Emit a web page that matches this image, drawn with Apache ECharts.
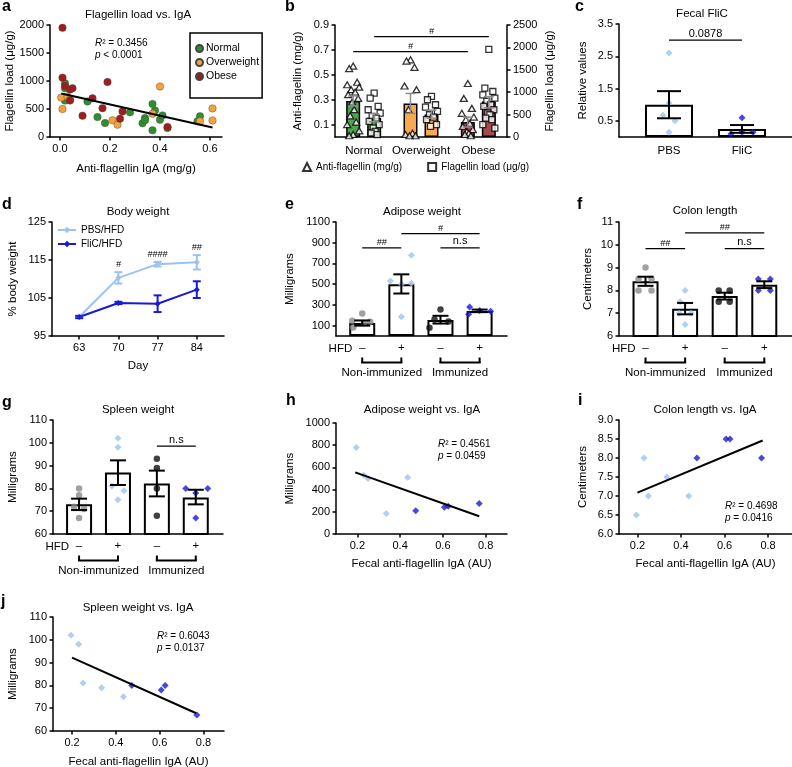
<!DOCTYPE html>
<html><head><meta charset="utf-8">
<script src="https://cdn.jsdelivr.net/npm/echarts@6/dist/echarts.min.js"></script>
<style>html,body{margin:0;padding:0;background:#fff}#c{width:792px;height:767px}</style>
</head><body><div id="c"></div>
<script>
// ---------------- DATA ----------------
// a: Flagellin load vs IgA  [IgA mg/g, load ug/g]
const aNormal = [[0.02,960],[0.02,870],[0.02,650],[0.11,635],[0.15,355],[0.18,250],[0.28,440],[0.33,245],[0.34,340],[0.34,300],[0.37,590],[0.38,475],[0.40,310],[0.41,385],[0.37,120],[0.43,160],[0.56,370],[0.55,280]];
const aOverweight = [[0.005,705],[0.01,500],[0.03,720],[0.04,670],[0.21,297],[0.23,220],[0.40,900],[0.37,415],[0.56,280],[0.61,510],[0.61,296]];
const aObese = [[0.01,1950],[0.01,1060],[0.02,910],[0.05,870],[0.04,850],[0.19,980],[0.13,690],[0.09,380],[0.17,515],[0.25,455],[0.24,325],[0.43,180],[0.04,650]];
const aFit = [[0.005,775],[0.61,170]];
const aXTicks = [0,0.2,0.4,0.6];

// b
const bCategories = ['Normal','Overweight','Obese'];
const bAntiMean = [0.29,0.27,0.12];
const bAntiErr = [[0.25,0.33],[0.19,0.35],[0.08,0.16]];
const bLoadMean = [430,500,790];
const bLoadErr = [[340,520],[420,600],[650,900]];
const bAntiNormal = [0.57,0.55,0.44,0.42,0.40,0.38,0.36,0.34,0.31,0.28,0.22,0.17,0.12,0.10,0.05,0.02,0.01];
const bAntiOverweight = [0.62,0.61,0.56,0.41,0.38,0.22,0.03,0.02,0.01,0.01];
const bAntiObese = [0.43,0.31,0.23,0.19,0.16,0.14,0.11,0.085,0.06,0.045,0.03,0.02,0.01];
const bLoadNormal = [979,868,682,608,534,460,423,349,274,200,126,89,52];
const bLoadOverweight = [905,831,720,668,571,497,445,386,274,237];
const bLoadObese = [1958,1090,1016,942,868,794,720,682,608,534,497,423,386,274,200];
const bLeftTicks = [0.1,0.3,0.5,0.7,0.9];
const bSig = [{x1:0,x2:2,y:0.686,label:'#',bar:'anti'},{x1:0,x2:2,y:0.807,label:'#',bar:'load'}];

// c
const cCategories = ['PBS','FliC'];
const cMean = [1.0,0.25];
const cErr = [[0.58,1.42],[0.13,0.37]];
const cPoints = [[2.6,1.05,0.67,0.5,0.15],[0.6,0.1,0.15,0.15]];
const cJit = [[0,0,-6,6,0],[0,-11,0,11]];
const cYTicks = [0.5,1.5,2.5,3.5];
const cSig = [{x1:0,x2:1,y:3.0,label:'0.0878'}];

// d
const dDays = [63,70,77,84];
const dPBS = [100,110.3,113.9,114.4];
const dPBSErr = [0.3,1.5,0.6,1.9];
const dFliC = [100,103.7,103.5,107.2];
const dFliCErr = [0.3,0.3,2.2,2.2];
const dSigLabels = ['','#','####','##'];
const dSigY = [null,113.8,116.4,118.2];
const dYTicks = [95,105,115,125];

// e, f, g (groups: Non-immunized HFD-, HFD+, Immunized HFD-, HFD+)
const hfdLabels = ['–','+','–','+'];
const immGroups = [{from:0,to:1,label:'Non-immunized'},{from:2,to:3,label:'Immunized'}];
const eMean = [125,500,155,242];
const eErr = [[100,150],[410,595],[120,195],[230,255]];
const ePoints = [[218,148,138,122,81],[780,530,500,510,185],[255,160,140,80],[280,245,240,210]];
const eJit = [[0,-10,8,2,-9],[10,-11,0,10,0],[0,-6,8,-11],[-10,0,11,-11]];
const eSig = [{x1:0,x2:1,y:850,label:'##'},{x1:1,x2:3,y:988,label:'#'},{x1:2,x2:3,y:850,label:'n.s'}];
const eYTicks = [100,300,500,700,900,1100];

const fMean = [8.4,7.2,7.75,8.25];
const fErr = [[8.2,8.6],[6.95,7.45],[7.6,7.9],[8.1,8.4]];
const fPoints = [[9.0,8.5,8.5,8.0,8.0],[8.0,7.5,7.0,7.0,6.5],[8.0,8.0,7.5,7.5],[8.5,8.5,8.0,8.0]];
const fJit = [[0,-7,6,-7,6],[0,-5,-6,6,0],[-6,5,-6,5],[-6,6,-6,6]];
const fSig = [{x1:0,x2:1,y:9.83,label:'##'},{x1:1,x2:3,y:10.52,label:'##'},{x1:2,x2:3,y:9.83,label:'n.s'}];

const gMean = [73,87,82.2,76];
const gErr = [[70.5,75.5],[81.5,92.3],[76.5,87.8],[73,79.4]];
const gPoints = [[80,77,72,71,67],[102,98,81,79,75],[93,89,80,68],[80,80,78,67]];
const gJit = [[0,0,-5,5,0],[0,0,-6,6,0],[0,0,0,0],[-10,12,0,0]];
const gSig = [{x1:2,x2:3,y:98.5,label:'n.s'}];

// h, i, j: fecal anti-flagellin IgA (AU)
const igaPBS = [0.195,0.23,0.25,0.335,0.435];
const igaFliC = [0.473,0.607,0.625,0.77];
const hPBS = [780,530,500,185,510];
const hFliC = [210,240,250,275];
const hFit = [[0.19,555],[0.77,160]];
const iPBS = [6.5,8.0,7.0,7.5,7.0];
const iFliC = [8.0,8.5,8.5,8.0];
const iFit = [[0.2,7.09],[0.775,8.46]];
const jPBS = [102,98,81,79,75];
const jFliC = [80,78,80,67];
const jFit = [[0.2,92.2],[0.767,67.8]];
const igaTicks = [0.2,0.4,0.6,0.8];

// ---------------- STYLE ----------------
const FF = '"Liberation Sans", Arial, Helvetica, sans-serif';
const LIGHT = '#9cc3ee', DARK = '#1a1ad6', GRAY = '#8a8a8a', BLACK = '#111111';
const GREEN = '#2f8f2f', ORANGE = '#f4a23a', RED = '#a11d1d';
const bColors = ['#52a152','#f8a850','#a84a52'];
const grpColors = [GRAY, LIGHT, BLACK, DARK];
const grpSymbols = ['circle','diamond','circle','diamond'];
const grpSizes = [6.5,7,6.5,7];

const grids = [
 {left:50, top:25, width:172, height:112},
 {left:335, top:25, width:172, height:112},
 {left:619, top:24, width:173, height:113},
 {left:52, top:222, width:172, height:114},
 {left:336, top:222, width:171, height:114},
 {left:619, top:222, width:173, height:114},
 {left:53, top:420, width:170, height:114},
 {left:336, top:423, width:171, height:111},
 {left:619, top:420, width:173, height:114},
 {left:53, top:617, width:171, height:114}
];

function merge(a,b){ const o=Object.assign({},a); for(const k in b){ if(b[k]&&typeof b[k]==='object'&&!Array.isArray(b[k])&&typeof a[k]==='object'&&a[k]) o[k]=merge(a[k],b[k]); else o[k]=b[k]; } return o; }
const axisBase = {
  axisLine:{show:true,onZero:false,lineStyle:{color:'#000',width:1.5}},
  axisTick:{show:true,length:3.5,lineStyle:{color:'#000',width:1.5}},
  axisLabel:{color:'#000',fontSize:11,fontFamily:FF,margin:6,formatter:v=>String(v)},
  splitLine:{show:false},
  nameLocation:'middle',
  nameTextStyle:{color:'#000',fontSize:11.5,fontFamily:FF}
};
const vAx = o => merge(merge(axisBase,{type:'value'}), o);
const f1 = v => v.toFixed(1);
const custom = (vals, fmt) => ({axisTick:{customValues:vals}, axisLabel:Object.assign({customValues:vals}, fmt?{formatter:fmt}:{})});

const xAxis = [
  vAx(merge({gridIndex:0,min:-0.04,max:0.648,name:'Anti-flagellin IgA (mg/g)',nameGap:26}, custom(aXTicks,f1))),
  merge(axisBase,{type:'category',gridIndex:1,data:bCategories,axisTick:{show:false},axisLabel:{fontSize:11.5,margin:8,interval:0}}),
  vAx({gridIndex:2,min:-0.685,max:1.685,axisTick:{show:false},axisLabel:{customValues:[0,1],formatter:v=>cCategories[Math.round(v)],fontSize:11.5,margin:8}}),
  vAx(merge({gridIndex:3,min:58.14,max:88.86,name:'Day',nameGap:24}, custom(dDays))),
  ...[4,5,6].map(gi=>vAx({gridIndex:gi,min:-0.67,max:3.7,axisTick:{show:false},axisLabel:{customValues:[0,1,2,3],formatter:v=>hfdLabels[Math.round(v)],margin:6,fontSize:11.5}})),
  vAx(merge({gridIndex:7,min:0.1,max:0.9,name:'Fecal anti-flagellin IgA (AU)',nameGap:24}, custom(igaTicks,f1))),
  vAx(merge({gridIndex:8,min:0.115,max:0.91,name:'Fecal anti-flagellin IgA (AU)',nameGap:24}, custom(igaTicks,f1))),
  vAx(merge({gridIndex:9,min:0.113,max:0.894,name:'Fecal anti-flagellin IgA (AU)',nameGap:25}, custom(igaTicks,f1)))
];
const yAxis = [
  vAx({gridIndex:0,min:0,max:2000,interval:500,name:'Flagellin load (μg/g)',nameGap:34,nameRotate:90}),
  vAx(merge({gridIndex:1,min:0,max:0.9,name:'Anti-flagellin (mg/g)',nameGap:31,nameRotate:90}, custom(bLeftTicks,f1))),
  vAx({gridIndex:1,position:'right',min:0,max:2500,interval:500,name:'Flagellin load (μg/g)',nameGap:37,nameRotate:90}),
  vAx(merge({gridIndex:2,min:0,max:3.5,name:'Relative values',nameGap:30,nameRotate:90}, custom(cYTicks,f1))),
  vAx(merge({gridIndex:3,min:95,max:125,name:'% body weight',nameGap:33,nameRotate:90}, custom(dYTicks))),
  vAx(merge({gridIndex:4,min:0,max:1100,name:'Milligrams',nameGap:40,nameRotate:90}, custom(eYTicks))),
  vAx({gridIndex:5,min:6,max:11,interval:1,name:'Centimeters',nameGap:25,nameRotate:90}),
  vAx({gridIndex:6,min:60,max:110,interval:10,name:'Milligrams',nameGap:34,nameRotate:90}),
  vAx({gridIndex:7,min:0,max:1000,interval:200,name:'Milligrams',nameGap:40,nameRotate:90}),
  vAx({gridIndex:8,min:6,max:9,interval:0.5,name:'Centimeters',nameGap:30,nameRotate:90,axisLabel:{formatter:f1}}),
  vAx({gridIndex:9,min:60,max:110,interval:10,name:'Milligrams',nameGap:34,nameRotate:90})
];

function errSeries(xi, yi, data, offset, cap, color, lw){
  return {type:'custom', xAxisIndex:xi, yAxisIndex:yi, silent:true, z:6, data,
    renderItem:(params, api)=>{
      const x=api.value(0), lo=api.value(1), hi=api.value(2);
      const a=api.coord([x,lo]), b=api.coord([x,hi]);
      const cx=a[0]+offset; const style={stroke:color,lineWidth:lw};
      return {type:'group',children:[
        {type:'line',shape:{x1:cx,y1:a[1],x2:cx,y2:b[1]},style},
        {type:'line',shape:{x1:cx-cap,y1:a[1],x2:cx+cap,y2:a[1]},style},
        {type:'line',shape:{x1:cx-cap,y1:b[1],x2:cx+cap,y2:b[1]},style}
      ]};
    }};
}
const JIT = [0,-4,4,-6,6,-2,2,-5,5,-1,1,-3,3,-6,6,0,-4];
const series = [];
// a
[['Normal',aNormal,GREEN],['Overweight',aOverweight,ORANGE],['Obese',aObese,RED]].forEach(([n,d,c])=>{
  series.push({type:'scatter',name:n,xAxisIndex:0,yAxisIndex:0,data:d,symbolSize:7.5,itemStyle:{color:c,borderColor:'#444',borderWidth:0.4,opacity:1}});
});
series.push({type:'line',name:'aFit',xAxisIndex:0,yAxisIndex:0,data:aFit,symbol:'none',lineStyle:{color:'#000',width:2},z:4,silent:true});
// b
series.push({type:'bar',name:'bAntiBar',xAxisIndex:1,yAxisIndex:1,barWidth:14,barGap:'50%',
  data:bAntiMean.map((v,i)=>({value:v,itemStyle:{color:bColors[i]}})),itemStyle:{borderColor:'#000',borderWidth:1.5},silent:true});
series.push({type:'bar',name:'bLoadBar',xAxisIndex:1,yAxisIndex:2,barWidth:14,barGap:'50%',
  data:bLoadMean.map((v,i)=>({value:v,itemStyle:{color:bColors[i]}})),itemStyle:{borderColor:'#000',borderWidth:1.5},silent:true});
series.push({type:'scatter',name:'Anti-flagellin (mg/g)',xAxisIndex:1,yAxisIndex:1,symbol:'triangle',symbolSize:[7,6],z:5,
  itemStyle:{color:'#fff',borderColor:'#000',borderWidth:1.3},
  data:[bAntiNormal,bAntiOverweight,bAntiObese].flatMap((arr,ci)=>arr.map((v,k)=>({value:[ci,v],symbolOffset:[-10.5+JIT[k%JIT.length],0]})))});
series.push({type:'scatter',name:'Flagellin load (μg/g)',xAxisIndex:1,yAxisIndex:2,symbol:'rect',symbolSize:6,z:5,
  itemStyle:{color:'#fff',borderColor:'#000',borderWidth:1.3},
  data:[bLoadNormal,bLoadOverweight,bLoadObese].flatMap((arr,ci)=>arr.map((v,k)=>({value:[ci,v],symbolOffset:[10.5+JIT[k%JIT.length],0]})))});
series.push(errSeries(1,1,bAntiErr.map((e,i)=>[i,e[0],e[1]]),-10.5,5,'#8c8c8c',1.5));
series.push(errSeries(1,2,bLoadErr.map((e,i)=>[i,e[0],e[1]]),10.5,5,'#8c8c8c',1.5));
// c
series.push({type:'bar',name:'cBar',xAxisIndex:2,yAxisIndex:3,barWidth:48,data:cMean.map((v,i)=>[i,v]),itemStyle:{color:'#fff',borderColor:'#000',borderWidth:2},silent:true});
cPoints.forEach((arr,gi)=>series.push({type:'scatter',name:'c'+gi,xAxisIndex:2,yAxisIndex:3,symbol:'diamond',symbolSize:7,z:5,
  itemStyle:{color:gi===0?LIGHT:DARK},data:arr.map((v,k)=>({value:[gi,v],symbolOffset:[cJit[gi][k],0]}))}));
series.push(errSeries(2,3,cErr.map((e,i)=>[i,e[0],e[1]]),0,12,'#000',2));
// d
[['PBS/HFD',dPBS,dPBSErr,LIGHT],['FliC/HFD',dFliC,dFliCErr,DARK]].forEach(([n,m,e,c])=>{
  series.push({type:'line',name:n,xAxisIndex:3,yAxisIndex:4,data:dDays.map((d,i)=>[d,m[i]]),symbol:'diamond',symbolSize:6,
    lineStyle:{color:c,width:2},itemStyle:{color:c}});
  series.push(errSeries(3,4,dDays.map((d,i)=>[d,m[i]-e[i],m[i]+e[i]]),0,4,c,2));
});
// e f g
[[4,5,eMean,eErr,ePoints,eJit],[5,6,fMean,fErr,fPoints,fJit],[6,7,gMean,gErr,gPoints,gJit]].forEach(([xi,yi,mean,err,pts,jit])=>{
  series.push({type:'bar',name:'bar'+xi,xAxisIndex:xi,yAxisIndex:yi,barWidth:26,data:mean.map((v,i)=>[i,v]),itemStyle:{color:'#fff',borderColor:'#000',borderWidth:2},silent:true});
  pts.forEach((arr,gi)=>series.push({type:'scatter',name:'p'+xi+'_'+gi,xAxisIndex:xi,yAxisIndex:yi,symbol:grpSymbols[gi],symbolSize:grpSizes[gi],z:5,
    itemStyle:{color:grpColors[gi]},data:arr.map((v,k)=>({value:[gi,v],symbolOffset:[jit[gi][k],0]}))}));
  series.push(errSeries(xi,yi,err.map((e,i)=>[i,e[0],e[1]]),0,8,'#000',2));
});
// h i j
[[7,8,hPBS,hFliC,hFit],[8,9,iPBS,iFliC,iFit],[9,10,jPBS,jFliC,jFit]].forEach(([xi,yi,p,f,fit])=>{
  series.push({type:'scatter',name:'sp'+xi,xAxisIndex:xi,yAxisIndex:yi,symbol:'diamond',symbolSize:7,itemStyle:{color:LIGHT},data:igaPBS.map((x,i)=>[x,p[i]])});
  series.push({type:'scatter',name:'sf'+xi,xAxisIndex:xi,yAxisIndex:yi,symbol:'diamond',symbolSize:7,itemStyle:{color:DARK},data:igaFliC.map((x,i)=>[x,f[i]])});
  series.push({type:'line',name:'fit'+xi,xAxisIndex:xi,yAxisIndex:yi,data:fit,symbol:'none',lineStyle:{color:'#000',width:2},z:4,silent:true});
});

const option = {
  animation:false,
  backgroundColor:'#fff',
  textStyle:{fontFamily:FF},
  grid:grids.map(g=>Object.assign({containLabel:false,outerBoundsMode:'none'},g)),
  legend:[
    {data:['Normal','Overweight','Obese'],left:190,top:33,orient:'vertical',icon:'circle',itemWidth:7,itemHeight:7,itemGap:3,
     borderColor:'#000',borderWidth:1.5,padding:[10,3,16,5],selectedMode:false,textStyle:{fontSize:10.5,fontFamily:FF,color:'#000',padding:[0,0,0,-2]}},
    {data:['Anti-flagellin (mg/g)','Flagellin load (μg/g)'],left:302,top:162,orient:'horizontal',itemWidth:8,itemHeight:8,itemGap:25,padding:0,
     selectedMode:false,textStyle:{fontSize:10,fontFamily:FF,color:'#000'}},
    {data:['PBS/HFD','FliC/HFD'],left:57,top:225,orient:'vertical',itemWidth:18,itemHeight:8,itemGap:4,padding:0,
     selectedMode:false,textStyle:{fontSize:10,fontFamily:FF,color:'#000'}}
  ],
  xAxis, yAxis, series
};

const chart = echarts.init(document.getElementById('c'), null, {renderer:'canvas'});
chart.setOption(option);

// ---------------- ANNOTATIONS ----------------
const gfx = [];
function txt(x,y,text,o={}){
  const st = {text, fill:'#000', fontSize:o.size||11.5, fontFamily:FF, fontStyle:o.style||'normal', fontWeight:o.weight||'normal',
    align:o.align||'center', verticalAlign:o.va||'middle'};
  if(o.rich) st.rich=o.rich;
  gfx.push({type:'text',x,y,silent:true,z:100,style:st});
}
function ln(x1,y1,x2,y2,w){ gfx.push({type:'line',silent:true,z:100,shape:{x1,y1,x2,y2},style:{stroke:'#000',lineWidth:w||1.2}}); }
const toPx = (xi,yi,pt)=>chart.convertToPixel({xAxisIndex:xi,yAxisIndex:yi},pt);
function sigLabel(x,y,label){
  if(label.indexOf('#')>=0) txt(x,y-1,label,{size:9,style:'italic',va:'bottom'});
  else txt(x,y-1,label,{size:11,va:'bottom'});
}
// letters
[['a',2,7],['b',285,7],['c',575,7],['d',2,204.5],['e',285,204.5],['f',577,204.5],['g',2,402.5],['h',286,401],['i',578,401],['j',1,601.5]]
 .forEach(([l,x,y])=>txt(x,y,l,{size:16,weight:'bold',align:'left'}));
// titles
[['Flagellin load vs. IgA',138,15],['Fecal FliC',702,14],['Body weight',138,211.5],['Adipose weight',422,212],['Colon length',705,211],
 ['Spleen weight',138,410],['Adipose weight vs. IgA',422,410],['Colon length vs. IgA',705,410],['Spleen weight vs. IgA',138,608]]
 .forEach(([t,x,y])=>txt(x,y,t,{size:11.5}));
// R2 / p annotations
const richI = {i:{fontStyle:'italic',fontSize:10,fontFamily:FF}};
[['0.3456','< 0.0001',95,43],['0.4561','= 0.0459',438,444],['0.4698','= 0.0416',725,506],['0.6043','= 0.0137',157,636]].forEach(([r,p,x,y])=>{
  txt(x,y,'{i|R}² = '+r,{size:10,align:'left',rich:richI});
  txt(x,y+12.5,'{i|p} '+p,{size:10,align:'left',rich:richI});
});
// b significance
bSig.forEach(s=>{
  const off = s.bar==='anti'?-10.5:10.5;
  const p1=toPx(1,1,[s.x1,s.y]), p2=toPx(1,1,[s.x2,s.y]);
  ln(p1[0]+off,p1[1],p2[0]+off,p2[1]); sigLabel((p1[0]+p2[0])/2+off,p1[1],s.label);
});
// c significance
cSig.forEach(s=>{ const p1=toPx(2,3,[s.x1,s.y]), p2=toPx(2,3,[s.x2,s.y]); ln(p1[0],p1[1],p2[0],p2[1]); sigLabel((p1[0]+p2[0])/2,p1[1],s.label); });
// d significance
dDays.forEach((d,i)=>{ if(dSigLabels[i]){ const p=toPx(3,4,[d,dSigY[i]]); txt(p[0],p[1],dSigLabels[i],{size:9,style:'italic'}); } });
// e f g significance, HFD and brackets
[[4,5,eSig,0],[5,6,fSig,6],[6,7,gSig,60]].forEach(([xi,yi,sigs,ymin])=>{
  sigs.forEach(s=>{ const p1=toPx(xi,yi,[s.x1,s.y]), p2=toPx(xi,yi,[s.x2,s.y]); ln(p1[0],p1[1],p2[0],p2[1]); sigLabel((p1[0]+p2[0])/2,p1[1],s.label); });
  const base = toPx(xi,yi,[0,ymin]);
  const y0 = base[1];
  txt(base[0]-10,y0+12.5,'HFD',{size:11.5,align:'right'});
  immGroups.forEach(g=>{
    const xa=toPx(xi,yi,[g.from,ymin])[0], xb=toPx(xi,yi,[g.to,ymin])[0];
    ln(xa,y0+21.5,xa,y0+27,2); ln(xb,y0+21.5,xb,y0+27,2); ln(xa-1,y0+26.5,xb+1,y0+26.5,2);
    txt((xa+xb)/2,y0+36.5,g.label,{size:11.5});
  });
});
chart.setOption({graphic:gfx});
</script></body></html>
